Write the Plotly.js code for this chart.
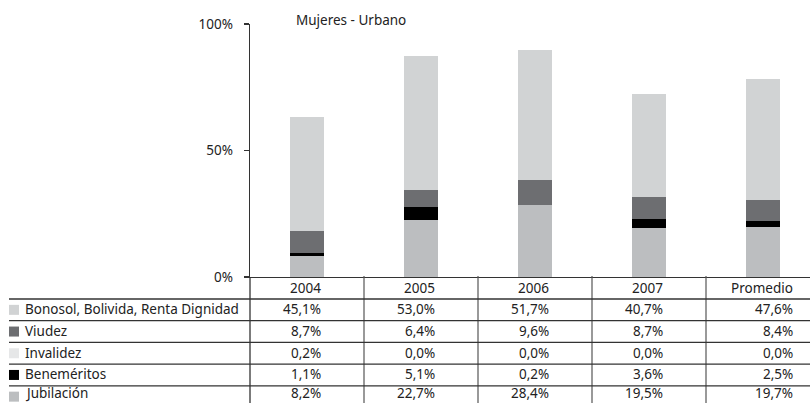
<!DOCTYPE html>
<html>
<head>
<meta charset="utf-8">
<script src="https://cdn.plot.ly/plotly-3.0.1.min.js"></script>
<style>html,body{margin:0;padding:0;background:#fff}#chart{width:810px;height:403px}</style>
</head>
<body>
<div id="chart"></div>
<script>
const categories = ['2004', '2005', '2006', '2007', 'Promedio'];
const seriesNames = ['Jubilación', 'Beneméritos', 'Invalidez', 'Viudez', 'Bonosol, Bolivida, Renta Dignidad'];
const jubilacion = [8.2, 22.7, 28.4, 19.5, 19.7];
const benemeritos = [1.1, 5.1, 0.2, 3.6, 2.5];
const invalidez = [0.2, 0.0, 0.0, 0.0, 0.0];
const viudez = [8.7, 6.4, 9.6, 8.7, 8.4];
const bonosol = [45.1, 53.0, 51.7, 40.7, 47.6];
const yTickVals = [0, 50, 100];
const yTickText = ['0%', '50%', '100%'];

const seriesValues = [jubilacion, benemeritos, invalidez, viudez, bonosol];
const colors = ['#bcbec0', '#000000', '#e6e7e8', '#6d6e71', '#d1d3d4'];

const FONT = 'Noto Sans, Open Sans, sans-serif';
const FS = 13.5;
const W = 810, H = 403;
const L = 250, R = 0, T = 24, B = 126;
const plotW = W - L - R, plotH = H - T - B;
const xSpan = plotW / 114; // category units visible
const xRange = [-0.5, -0.5 + xSpan];

const px2paperX = p => (p - L) / plotW;
const py2paperY = p => (H - B - p) / plotH;
const u2paperX = u => (u - xRange[0]) / xSpan;

const traces = seriesValues.map((vals, i) => ({
  type: 'bar',
  name: seriesNames[i],
  x: categories,
  y: vals,
  width: 0.29,
  marker: {color: colors[i], line: {width: 0}},
  hoverinfo: 'none'
}));

const fmt = v => v.toFixed(1).replace('.', ',') + '%';

const shapes = [];
const annotations = [];
const lineCol = '#333333';

const axisY = H - B;
const rowH = 21.7;
const headerBottom = axisY + 22;
const tableOrder = [4, 3, 2, 1, 0];

shapes.push({type: 'line', xref: 'paper', yref: 'paper', x0: 0, x1: 0, y0: 0, y1: py2paperY(H + 2), line: {color: lineCol, width: 1.3}});
for (let i = 0; i < categories.length - 1; i++) {
  shapes.push({type: 'line', xref: 'paper', yref: 'paper', x0: u2paperX(i + 0.5), x1: u2paperX(i + 0.5), y0: py2paperY(axisY - 1), y1: py2paperY(H + 2), line: {color: '#555555', width: 1.2}});
}
for (let r = 0; r < tableOrder.length; r++) {
  const y = headerBottom + r * rowH;
  shapes.push({type: 'line', xref: 'paper', yref: 'paper', x0: px2paperX(9), x1: px2paperX(W), y0: py2paperY(y), y1: py2paperY(y), line: {color: lineCol, width: 1.3}});
}

const rightOff = i => (i < categories.length - 1 ? 15.5 : 31.5) / 114;
const txtFont = {family: FONT, size: FS, color: '#222'};
categories.forEach((c, i) => {
  annotations.push({xref: 'paper', yref: 'paper', x: u2paperX(i + rightOff(i)), y: py2paperY(axisY + 11), xanchor: 'right', yanchor: 'middle', text: c, showarrow: false, font: txtFont});
});

tableOrder.forEach((s, r) => {
  const cy = headerBottom + r * rowH + rowH / 2;
  const ty = Math.min(cy - 0.5, H - 10.5);
  shapes.push({type: 'rect', xref: 'paper', yref: 'paper', x0: px2paperX(9), x1: px2paperX(19), y0: py2paperY(cy - 5), y1: py2paperY(cy + 5), fillcolor: colors[s], line: {width: 0}});
  annotations.push({xref: 'paper', yref: 'paper', x: px2paperX(23), y: py2paperY(ty), xanchor: 'left', yanchor: 'middle', text: seriesNames[s], showarrow: false, font: txtFont});
  seriesValues[s].forEach((v, i) => {
    annotations.push({xref: 'paper', yref: 'paper', x: u2paperX(i + rightOff(i)), y: py2paperY(ty), xanchor: 'right', yanchor: 'middle', text: fmt(v), showarrow: false, font: txtFont});
  });
});

const layout = {
  width: W, height: H,
  margin: {l: L, r: R, t: T, b: B, pad: 0},
  paper_bgcolor: '#fff', plot_bgcolor: '#fff',
  barmode: 'stack',
  showlegend: false,
  title: {text: 'Mujeres - Urbano', x: 296 / W, xanchor: 'left', xref: 'container', y: 1 - 20 / H, yref: 'container', yanchor: 'middle', font: txtFont},
  xaxis: {type: 'category', range: xRange, showticklabels: false, ticks: '', showgrid: false, zeroline: false, showline: true, linecolor: lineCol, linewidth: 1.3, fixedrange: true},
  yaxis: {range: [0, 100], tickvals: yTickVals, ticktext: yTickText, ticks: 'outside', ticklen: 5, tickwidth: 1.3, tickcolor: lineCol, showgrid: false, zeroline: false, showline: true, linecolor: lineCol, linewidth: 1.3, ticklabelstandoff: 8, tickfont: txtFont, fixedrange: true},
  shapes: shapes,
  annotations: annotations
};

Plotly.newPlot('chart', traces, layout, {displayModeBar: false, staticPlot: true});
</script>
</body>
</html>
